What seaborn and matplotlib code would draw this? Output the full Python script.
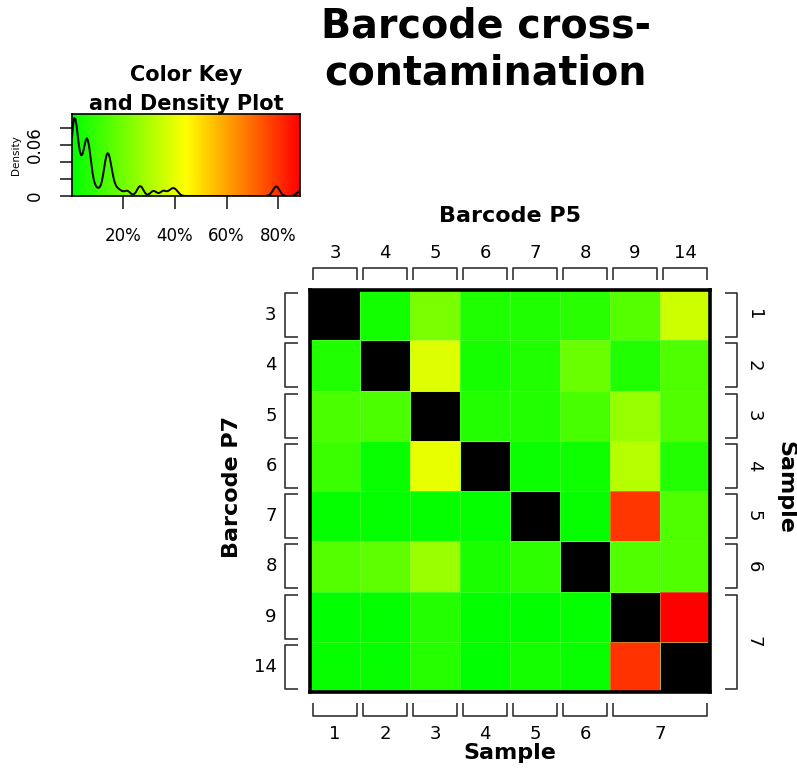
import numpy as np
import pandas as pd
import matplotlib
matplotlib.use("Agg")
import matplotlib.pyplot as plt
import matplotlib.transforms as mtransforms
import seaborn as sns
from matplotlib.colors import LinearSegmentedColormap

sns.set_theme(style="white")
plt.rcParams.update({
    "font.family": "DejaVu Sans",
    "text.color": "black",
    "axes.labelcolor": "black",
    "xtick.color": "black",
    "ytick.color": "black",
})

# barcodes on each read end, and which sample each P7 / P5 barcode belongs to
barcodes_p5 = ["3", "4", "5", "6", "7", "8", "9", "14"]
barcodes_p7 = ["3", "4", "5", "6", "7", "8", "9", "14"]
samples = ["1", "2", "3", "4", "5", "6", "7"]
sample_size = [1, 1, 1, 1, 1, 1, 2]

# cross-contamination in %, rows = P7 barcode, cols = P5 barcode (diagonal = NA)
row_3 = [np.nan, 3.4, 21.6, 5.6, 5.8, 7.4, 15.4, 35.6]
row_4 = [5.9, np.nan, 38.6, 4.3, 6.0, 18.6, 6.1, 13.8]
row_5 = [13.2, 13.5, np.nan, 6.2, 6.3, 12.8, 26.4, 14.6]
row_6 = [10.3, 2.0, 40.3, np.nan, 2.3, 2.9, 31.8, 6.4]
row_7 = [1.2, 1.2, 1.3, 1.1, np.nan, 1.4, 78.8, 14.0]
row_8 = [15.0, 16.6, 26.9, 4.8, 8.4, np.nan, 14.2, 14.4]
row_9 = [0.6, 0.7, 6.6, 0.8, 0.9, 1.0, np.nan, 88.4]
row_14 = [1.5, 1.6, 7.0, 0.3, 3.8, 1.8, 79.6, np.nan]

df = pd.DataFrame([row_3, row_4, row_5, row_6, row_7, row_8, row_9, row_14],
                  index=barcodes_p7, columns=barcodes_p5)
vals = df.stack().values
vmin, vmax = vals.min(), vals.max()

cmap = LinearSegmentedColormap.from_list("gyr", ["#00FF00", "#FFFF00", "#FF0000"])

W, H = 797, 770
fig = plt.figure(figsize=(W / 100, H / 100), dpi=100)

def box(x0, y0, x1, y1):
    # pixel box -> figure fraction
    return [x0 / W, 1 - y1 / H, (x1 - x0) / W, (y1 - y0) / H]

# ── colour key + density ───────────────────────────────────────────
ax_key = fig.add_axes(box(72, 114, 300, 196))
bw = 1.2  # kernel sd, in % units
sns.kdeplot(x=vals, ax=ax_key, bw_method=bw / np.std(vals, ddof=1), cut=0,
            color="black", lw=1.4, zorder=3)
peak = ax_key.lines[0].get_ydata().max()
top = peak / 0.95
ax_key.imshow(np.linspace(vmin, vmax, 512)[None, :], cmap=cmap, aspect="auto",
              extent=[vmin, vmax, 0, top], zorder=0)
ax_key.set_xlim(vmin, vmax)
ax_key.set_ylim(0, top)
ax_key.set_xticks([20, 40, 60, 80])
ax_key.set_xticklabels(["20%", "40%", "60%", "80%"], fontsize=12)
shift = mtransforms.ScaledTranslation(7 / 100, 0, fig.dpi_scale_trans)
for lab in ax_key.get_xticklabels():
    lab.set_transform(lab.get_transform() + shift)
ax_key.set_yticks([0, 0.02, 0.04, 0.06, 0.08])
ax_key.set_yticklabels(["0", "", "", "0.06", ""], fontsize=12, rotation=90,
                       va="center")
ax_key.tick_params(axis="both", length=9, width=1.2, color="#222222",
                   bottom=True, left=True)
ax_key.tick_params(axis="x", pad=13)
ax_key.tick_params(axis="y", pad=11)
ax_key.set_xlabel("")
ax_key.set_ylabel("Density", fontsize=7.5, labelpad=4)
for s in ax_key.spines.values():
    s.set_color("black")
    s.set_linewidth(1.2)
fig.text(186 / W, 1 - 65 / H, "Color Key\nand Density Plot", ha="center",
         va="top", fontsize=15, fontweight="bold", linespacing=1.55)

# ── main title ─────────────────────────────────────────────────────
fig.text(486 / W, 1 - 7 / H, "Barcode cross-\ncontamination", ha="center",
         va="top", fontsize=28.5, fontweight="bold", linespacing=1.22)

# ── heatmap ────────────────────────────────────────────────────────
ax = fig.add_axes(box(310, 290, 710, 692))
sns.heatmap(df, ax=ax, cmap=cmap, vmin=vmin, vmax=vmax, cbar=False,
            linewidths=0.4, linecolor=(0.55, 1.0, 0.4, 0.35))
ax.set_facecolor("black")
for s in ax.spines.values():
    s.set_visible(True)
    s.set_color("black")
    s.set_linewidth(2.6)
ax.xaxis.tick_top()
ax.tick_params(axis="x", length=0, pad=20, labelsize=13, rotation=0)
ax.tick_params(axis="y", length=0, pad=24, labelsize=13, rotation=0)
ax.set_xlabel("")
ax.set_ylabel("")

bk = dict(color="#333333", lw=1.2, clip_on=False, solid_capstyle="butt")
pad = 0.06
n = len(barcodes_p5)
# top brackets (P5) and left brackets (P7)
for i in range(n):
    a, b = i + pad, i + 1 - pad
    ax.plot([a, a, b, b], [-0.2, -0.44, -0.44, -0.2], **bk)
    ax.plot([-0.25, -0.5, -0.5, -0.25], [a, a, b, b], **bk)

# sample brackets on the right and bottom
start = 0
for lab, size in zip(samples, sample_size):
    a, b = start + pad, start + size - pad
    mid = start + size / 2
    ax.plot([8.3, 8.54, 8.54, 8.3], [a, a, b, b], **bk)
    ax.plot([a, a, b, b], [8.22, 8.48, 8.48, 8.22], **bk)
    ax.text(8.88, mid, lab, rotation=-90, ha="center", va="center", fontsize=13)
    ax.text(mid, 8.84, lab, ha="center", va="center", fontsize=13)
    start += size

lab_kw = dict(transform=ax.transAxes, ha="center", va="center",
              fontsize=16, fontweight="bold")
ax.text(0.5, 1.184, "Barcode P5", **lab_kw)
ax.text(-0.195, 0.51, "Barcode P7", rotation=90, **lab_kw)
ax.text(1.1875, 0.51, "Sample", rotation=-90, **lab_kw)
ax.text(0.5, -0.152, "Sample", **lab_kw)

fig.savefig("out.png", dpi=100)
